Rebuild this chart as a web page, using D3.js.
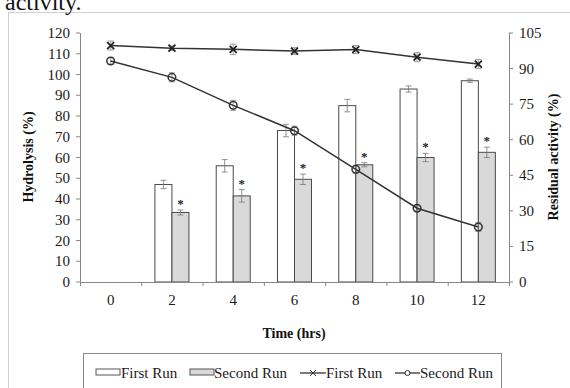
<!DOCTYPE html>
<html><head><meta charset="utf-8">
<script src="https://cdn.jsdelivr.net/npm/d3@7"></script>
<style>body{margin:0;background:#fff;}svg{display:block;}</style>
</head><body>
<svg id="c" width="570" height="388"></svg>
<script>
const categories = ["0","2","4","6","8","10","12"];
const hydFirst = [null, 47, 56, 73, 85, 93, 97];
const hydFirstErr = [null, 2, 3, 3, 3, 1.5, 0.8];
const hydSecond = [null, 33.5, 41.5, 49.5, 56.5, 60, 62.5];
const hydSecondErr = [null, 1.2, 3, 2.5, 1, 2, 2.5];
const resFirst = [99.7, 98.6, 98.1, 97.4, 98, 94.8, 91.9];
const resFirstErr = [1.5, 0.5, 1.8, 1, 1.3, 1.5, 1.5];
const resSecond = [93.2, 86.3, 74.5, 63.8, 47.5, 31.1, 23.2];
const resSecondErr = [1, 1.5, 1.7, 1.5, 1.3, 0.6, 1.5];
const leftTicks = [0,10,20,30,40,50,60,70,80,90,100,110,120];
const rightTicks = [0,15,30,45,60,75,90,105];

const FONT = "Liberation Serif";
const svg = d3.select("#c").attr("font-family", FONT);
const L = 80, R = 509, T = 33, B = 282;
const x = d3.scaleBand().domain(categories).range([L, R]);
const yL = d3.scaleLinear().domain([0,120]).range([B, T]);
const yR = d3.scaleLinear().domain([0,105]).range([B, T]);

// figure frame and caption remnant
svg.append("rect").attr("x",8.5).attr("y",12.5).attr("width",600).attr("height",400)
  .attr("fill","none").attr("stroke","#d0d0d0");
svg.append("text").attr("x",5).attr("y",10).attr("font-family",FONT).attr("font-size",24).attr("fill","#111").text("activity.");

const axCol = "#888";
const txtCol = "#1a1a1a";
// bars
const bw = 17;
const g = svg.append("g");
categories.forEach((c,i)=>{
  const cx = x(c) + x.bandwidth()/2;
  if (hydFirst[i] != null) {
    g.append("rect").attr("x", cx-bw).attr("y", yL(hydFirst[i])).attr("width", bw)
      .attr("height", B - yL(hydFirst[i])).attr("fill","#fff").attr("stroke","#4a4a4a").attr("stroke-width",1);
    g.append("rect").attr("x", cx).attr("y", yL(hydSecond[i])).attr("width", bw)
      .attr("height", B - yL(hydSecond[i])).attr("fill","#d9d9d9").attr("stroke","#4a4a4a").attr("stroke-width",1);
    const eb = (px, v, e) => {
      g.append("line").attr("x1",px).attr("x2",px).attr("y1",yL(v+e)).attr("y2",yL(v-e)).attr("stroke","#777").attr("stroke-width",0.8);
      [v+e, v-e].forEach(t=>g.append("line").attr("x1",px-3).attr("x2",px+3).attr("y1",yL(t)).attr("y2",yL(t)).attr("stroke","#777").attr("stroke-width",0.8));
    };
    eb(cx-bw/2, hydFirst[i], hydFirstErr[i]);
    eb(cx+bw/2, hydSecond[i], hydSecondErr[i]);
    g.append("text").attr("x", cx+bw/2).attr("y", yL(hydSecond[i]+hydSecondErr[i]) - 2).attr("font-family",FONT)
      .attr("text-anchor","middle").attr("font-size",13).attr("font-weight","bold").attr("fill","#222").text("*");
  }
});

// axes
const ax = svg.append("g");
ax.append("line").attr("x1",L).attr("x2",R).attr("y1",B+0.5).attr("y2",B+0.5).attr("stroke",axCol);
ax.append("line").attr("x1",L+0.5).attr("x2",L+0.5).attr("y1",T).attr("y2",B).attr("stroke",axCol);
ax.append("line").attr("x1",R+0.5).attr("x2",R+0.5).attr("y1",T).attr("y2",B).attr("stroke",axCol);
leftTicks.forEach(t=>{
  ax.append("line").attr("x1",L-4).attr("x2",L).attr("y1",yL(t)).attr("y2",yL(t)).attr("stroke",axCol);
  ax.append("text").attr("x",L-10).attr("y",yL(t)+5).attr("font-family",FONT).attr("text-anchor","end").attr("font-size",15).attr("fill",txtCol).text(t);
});
rightTicks.forEach(t=>{
  ax.append("line").attr("x1",R).attr("x2",R+4).attr("y1",yR(t)).attr("y2",yR(t)).attr("stroke",axCol);
  ax.append("text").attr("x",R+10).attr("y",yR(t)+5).attr("font-family",FONT).attr("text-anchor","start").attr("font-size",15).attr("fill",txtCol).text(t);
});
categories.forEach((c,i)=>{
  const xb = x(c);
  ax.append("line").attr("x1",xb+0.5).attr("x2",xb+0.5).attr("y1",B).attr("y2",B+4).attr("stroke",axCol);
  ax.append("text").attr("x",xb + x.bandwidth()/2).attr("y",305).attr("font-family",FONT).attr("text-anchor","middle").attr("font-size",15).attr("fill",txtCol).text(c);
});
ax.append("line").attr("x1",R+0.5).attr("x2",R+0.5).attr("y1",B).attr("y2",B+4).attr("stroke",axCol);

// lines
const cxOf = c => x(c) + x.bandwidth()/2;
const lineGen = d3.line().x(d=>cxOf(d.c)).y(d=>yR(d.v));
function drawSeries(vals, errs, marker){
  const data = categories.map((c,i)=>({c, v: vals[i], e: errs[i]}));
  data.forEach(d=>{
    const px = cxOf(d.c);
    svg.append("line").attr("x1",px).attr("x2",px).attr("y1",yR(d.v+d.e)-1).attr("y2",yR(d.v-d.e)+1).attr("stroke","#888").attr("stroke-width",0.8);
    [d.v+d.e, d.v-d.e].forEach((t,k)=>{ const yy = yR(t) + (k===0?-1:1);
      svg.append("line").attr("x1",px-3).attr("x2",px+3).attr("y1",yy).attr("y2",yy).attr("stroke","#888").attr("stroke-width",0.8);});
  });
  svg.append("path").datum(data).attr("d", lineGen).attr("fill","none").attr("stroke","#333").attr("stroke-width",1.5);
  data.forEach(d=>{
    const px = cxOf(d.c), py = yR(d.v);
    if (marker === "x") {
      svg.append("path").attr("d",`M${px-3.5},${py-3.5}L${px+3.5},${py+3.5}M${px-3.5},${py+3.5}L${px+3.5},${py-3.5}`)
        .attr("stroke","#222").attr("stroke-width",1.8);
    } else {
      svg.append("circle").attr("cx",px).attr("cy",py).attr("r",3.8).attr("fill","none").attr("stroke","#333").attr("stroke-width",1.5);
    }
  });
}
drawSeries(resFirst, resFirstErr, "x");
drawSeries(resSecond, resSecondErr, "o");

// axis titles
svg.append("text").attr("transform","translate(33,157) rotate(-90)").attr("text-anchor","middle").attr("font-family",FONT)
  .attr("font-size",14).attr("font-weight","bold").attr("fill","#111").text("Hydrolysis (%)");
svg.append("text").attr("transform","translate(558,157) rotate(-90)").attr("text-anchor","middle").attr("font-family",FONT)
  .attr("font-size",14).attr("font-weight","bold").attr("fill","#111").text("Residual activity (%)");
svg.append("text").attr("x",294).attr("y",338).attr("text-anchor","middle").attr("font-family",FONT)
  .attr("font-size",14).attr("font-weight","bold").attr("fill","#111").text("Time (hrs)");

// legend
const lg = svg.append("g").attr("font-family",FONT);
lg.append("rect").attr("x",83.5).attr("y",353.5).attr("width",418).attr("height",50).attr("fill","#fff").attr("stroke","#888");
const ly = 373;
lg.append("rect").attr("x",96).attr("y",ly-4).attr("width",24).attr("height",6).attr("fill","#fff").attr("stroke","#555");
lg.append("text").attr("x",121).attr("y",ly+4.5).attr("font-size",15).attr("fill",txtCol).text("First Run");
lg.append("rect").attr("x",190).attr("y",ly-4).attr("width",24).attr("height",6).attr("fill","#d9d9d9").attr("stroke","#555");
lg.append("text").attr("x",214).attr("y",ly+4.5).attr("font-size",15).attr("fill",txtCol).text("Second Run");
lg.append("line").attr("x1",300).attr("x2",326).attr("y1",ly).attr("y2",ly).attr("stroke","#333").attr("stroke-width",1.3);
lg.append("path").attr("d",`M310,${ly-3}L316,${ly+3}M310,${ly+3}L316,${ly-3}`).attr("stroke","#333").attr("stroke-width",1);
lg.append("text").attr("x",326).attr("y",ly+4.5).attr("font-size",15).attr("fill",txtCol).text("First Run");
lg.append("line").attr("x1",395).attr("x2",420).attr("y1",ly).attr("y2",ly).attr("stroke","#333").attr("stroke-width",1.3);
lg.append("circle").attr("cx",407.5).attr("cy",ly).attr("r",2.5).attr("fill","#fff").attr("stroke","#333").attr("stroke-width",1);
lg.append("text").attr("x",420).attr("y",ly+4.5).attr("font-size",15).attr("fill",txtCol).text("Second Run");
</script>
</body></html>
